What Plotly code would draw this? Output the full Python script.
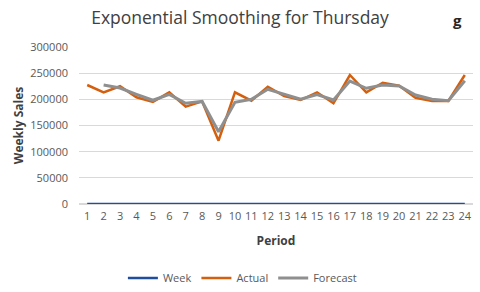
import plotly.graph_objects as go

periods = list(range(1, 25))
week = list(range(1, 25))
actual = [227400, 213400, 225000, 204000, 195000, 213400, 186000, 196000, 121000,
          213400, 197400, 224000, 206000, 198700, 213400, 192400, 246500, 213400,
          231800, 226000, 203000, 196800, 196800, 246500]
forecast = [None, 227400, 221700, 209600, 198200, 209600, 192400, 196000, 138200,
            194400, 200100, 219200, 210200, 200100, 208900, 198700, 235000, 221100,
            227400, 225500, 208300, 200100, 197400, 235600]
y_ticks = [0, 50000, 100000, 150000, 200000, 250000, 300000]

fig = go.Figure()
fig.add_trace(go.Scatter(x=periods, y=week, name="Week", mode="lines",
                         line=dict(color="#1F4E9E", width=2.5)))
fig.add_trace(go.Scatter(x=periods, y=actual, name="Actual", mode="lines",
                         line=dict(color="#D4600F", width=2.5)))
fig.add_trace(go.Scatter(x=periods, y=forecast, name="Forecast", mode="lines",
                         line=dict(color="#8F8F8F", width=3)))

font = "Open Sans, Liberation Sans, sans-serif"
fig.update_layout(
    width=480, height=292,
    margin=dict(l=79, r=7, t=47, b=88, autoexpand=False),
    paper_bgcolor="white", plot_bgcolor="white",
    font=dict(family=font, size=11, color="#595959"),
    title=dict(text="Exponential Smoothing for Thursday", x=0.5, xanchor="center",
               xref="container", y=1 - 18 / 292, yref="container", yanchor="middle",
               font=dict(size=17.5, color="#404040")),
    showlegend=True,
    legend=dict(orientation="h", x=0.505, xanchor="center", xref="container",
                y=14 / 292, yanchor="middle", yref="container",
                font=dict(size=11, color="#595959"), itemwidth=30,
                traceorder="normal"),
    xaxis=dict(range=[0.5, 24.5], tickmode="array", tickvals=periods,
               ticktext=[str(p) for p in periods], showgrid=False, zeroline=False,
               showline=False, ticks="", ticklabelstandoff=4, automargin=False,
               tickfont=dict(size=11, color="#595959"),
               title=dict(text="<b>Period</b>", font=dict(size=12, color="#404040"),
                          standoff=14)),
    yaxis=dict(range=[0, 300000], tickmode="array", tickvals=y_ticks,
               ticktext=[str(v) for v in y_ticks], showgrid=True,
               gridcolor="#D9D9D9", gridwidth=1, zeroline=True,
               zerolinecolor="#D9D9D9", showline=False, ticks="",
               ticklabelstandoff=10, automargin=False,
               tickfont=dict(size=11, color="#595959"),
               title=dict(text="<b>Weekly Sales</b>", font=dict(size=12, color="#404040"),
                          standoff=4)),
)
pw = 480 - 79 - 7
ph = 292 - 47 - 88
fig.add_annotation(text="<b>g</b>", x=(457 - 79) / pw, y=(204 - 20) / ph,
                   xref="paper", yref="paper", showarrow=False,
                   font=dict(size=15, color="#262626"),
                   xanchor="center", yanchor="middle")
fig.write_html("out.html", config={"displayModeBar": False},
               post_script="document.body.style.margin='0';")
